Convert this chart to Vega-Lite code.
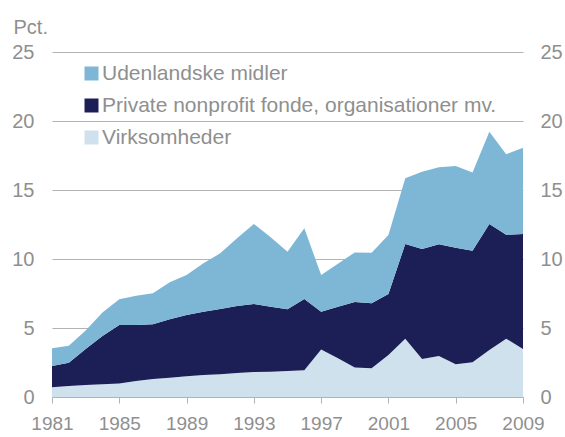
{
  "$schema": "https://vega.github.io/schema/vega-lite/v6.json",
  "width": 471,
  "height": 345,
  "autosize": "none",
  "padding": {"left": 52, "top": 52, "right": 42, "bottom": 40},
  "background": "white",
  "config": {
    "view": {"stroke": null},
    "font": "Liberation Sans",
    "axis": {"labelFont": "Liberation Sans", "titleFont": "Liberation Sans", "labelColor": "#8f8f8f", "titleColor": "#8f8f8f"},
    "legend": {"labelFont": "Liberation Sans"}
  },
  "data": {
    "values": [
      {"year": 1981, "V": 0.70, "P": 1.55, "U": 1.28},
      {"year": 1982, "V": 0.80, "P": 1.69, "U": 1.23},
      {"year": 1983, "V": 0.87, "P": 2.60, "U": 1.35},
      {"year": 1984, "V": 0.92, "P": 3.50, "U": 1.70},
      {"year": 1985, "V": 0.97, "P": 4.25, "U": 1.86},
      {"year": 1986, "V": 1.16, "P": 4.06, "U": 2.12},
      {"year": 1987, "V": 1.30, "P": 3.97, "U": 2.24},
      {"year": 1988, "V": 1.40, "P": 4.23, "U": 2.68},
      {"year": 1989, "V": 1.50, "P": 4.44, "U": 2.90},
      {"year": 1990, "V": 1.59, "P": 4.59, "U": 3.51},
      {"year": 1991, "V": 1.64, "P": 4.74, "U": 4.03},
      {"year": 1992, "V": 1.74, "P": 4.85, "U": 4.91},
      {"year": 1993, "V": 1.81, "P": 4.93, "U": 5.80},
      {"year": 1994, "V": 1.83, "P": 4.71, "U": 5.03},
      {"year": 1995, "V": 1.88, "P": 4.47, "U": 4.18},
      {"year": 1996, "V": 1.93, "P": 5.17, "U": 5.12},
      {"year": 1997, "V": 3.45, "P": 2.73, "U": 2.66},
      {"year": 1998, "V": 2.80, "P": 3.74, "U": 3.12},
      {"year": 1999, "V": 2.13, "P": 4.75, "U": 3.60},
      {"year": 2000, "V": 2.08, "P": 4.71, "U": 3.67},
      {"year": 2001, "V": 3.04, "P": 4.42, "U": 4.28},
      {"year": 2002, "V": 4.23, "P": 6.86, "U": 4.76},
      {"year": 2003, "V": 2.75, "P": 7.97, "U": 5.61},
      {"year": 2004, "V": 2.97, "P": 8.09, "U": 5.58},
      {"year": 2005, "V": 2.37, "P": 8.45, "U": 5.92},
      {"year": 2006, "V": 2.51, "P": 8.09, "U": 5.66},
      {"year": 2007, "V": 3.41, "P": 9.13, "U": 6.69},
      {"year": 2008, "V": 4.23, "P": 7.53, "U": 5.83},
      {"year": 2009, "V": 3.48, "P": 8.33, "U": 6.26}
    ]
  },
  "transform": [
    {"fold": ["V", "P", "U"], "as": ["key", "value"]},
    {"calculate": "{'V': 'Virksomheder', 'P': 'Private nonprofit fonde, organisationer mv.', 'U': 'Udenlandske midler'}[datum.key]", "as": "series"},
    {"calculate": "indexof(['V', 'P', 'U'], datum.key)", "as": "stackrank"}
  ],
  "layer": [
    {
      "mark": {"type": "area", "interpolate": "linear"},
      "encoding": {
        "x": {
          "field": "year", "type": "quantitative",
          "scale": {"domain": [1981, 2009], "nice": false, "zero": false},
          "axis": {
            "title": null,
            "values": [1981, 1983, 1985, 1987, 1989, 1991, 1993, 1995, 1997, 1999, 2001, 2003, 2005, 2007, 2009],
            "labelExpr": "(datum.value - 1981) % 4 == 0 ? datum.label : ''",
            "format": "d",
            "grid": false,
            "domain": true, "domainColor": "#b3b3b3", "domainWidth": 1,
            "ticks": true, "tickColor": "#b3b3b3", "tickSize": 6, "tickWidth": 1,
            "labelFontSize": 19, "labelPadding": 11, "labelFlush": false, "labelOverlap": false
          }
        },
        "y": {
          "field": "value", "type": "quantitative", "stack": "zero",
          "scale": {"domain": [0, 25], "nice": false},
          "axis": {
            "title": "Pct.", "titleAngle": 0, "titleAlign": "left", "titleBaseline": "middle",
            "titleX": -39, "titleY": -25, "titleFontSize": 20, "titleFontWeight": "normal",
            "values": [0, 5, 10, 15, 20, 25],
            "grid": true, "gridColor": "#b3b3b3", "gridWidth": 1.2,
            "domain": false, "ticks": false,
            "labelFontSize": 20, "labelPadding": 18
          }
        },
        "color": {
          "field": "series", "type": "nominal",
          "scale": {
            "domain": ["Udenlandske midler", "Private nonprofit fonde, organisationer mv.", "Virksomheder"],
            "range": ["#7db7d5", "#1c1f55", "#cfe1ed"]
          },
          "legend": {
            "title": null, "orient": "none", "legendX": 29, "legendY": 11,
            "padding": 0, "offset": 0,
            "symbolType": "square", "symbolSize": 196, "symbolStrokeWidth": 0,
            "labelFontSize": 21, "labelColor": "#8f8f8f", "labelOffset": 0,
            "rowPadding": 10, "labelLimit": 500
          }
        },
        "order": {"field": "stackrank", "type": "quantitative", "sort": "ascending"}
      }
    },
    {
      "mark": {"type": "rule", "opacity": 0},
      "encoding": {
        "x": {"field": "year", "type": "quantitative", "scale": {"domain": [1981, 2009], "nice": false, "zero": false}},
        "y": {
          "field": "value", "type": "quantitative", "stack": null,
          "scale": {"domain": [0, 25], "nice": false},
          "axis": {
            "orient": "right", "title": null, "values": [0, 5, 10, 15, 20, 25],
            "grid": false, "domain": false, "ticks": false,
            "labelFontSize": 20, "labelPadding": 17, "labelColor": "#8f8f8f"
          }
        }
      }
    }
  ],
  "resolve": {"scale": {"y": "independent"}}
}
